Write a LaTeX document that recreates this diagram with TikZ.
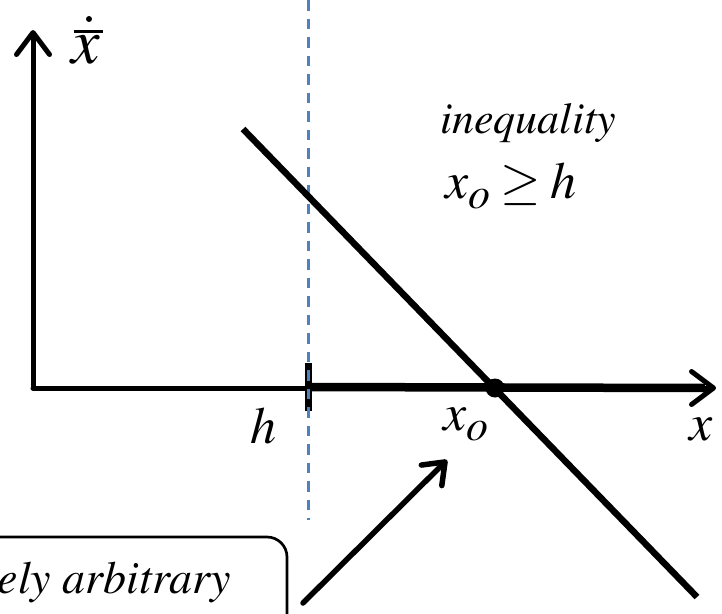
\documentclass[tikz,border=0pt]{standalone}
\usepackage[T1]{fontenc}
\usepackage{mathptmx}
\usetikzlibrary{arrows.meta,positioning,calc}
\definecolor{guideblue}{RGB}{79,129,189}
\newcommand\lowsub[1]{\raisebox{-10pt}{\fontsize{44}{50}\selectfont #1}}

\begin{document}
\begin{tikzpicture}[x=1pt,y=-1pt,
  axis/.style={line width=5pt,line cap=round,-{Straight Barb[length=22pt,width=33pt,round]}},
  pointer/.style={line width=5.5pt,line cap=round,-{Straight Barb[length=19pt,width=29pt,round]}},
  guide/.style={draw=guideblue,line width=3pt,dash pattern=on 10.5pt off 8pt},
  lbl/.style={font=\fontsize{52}{60}\selectfont\itshape,inner sep=0pt,anchor=base west},
  txt/.style={font=\fontsize{44}{52}\selectfont\itshape,inner sep=0pt,anchor=base west},
  tickmark/.style={fill=black,minimum width=7pt,minimum height=48pt,inner sep=0pt},
  root/.style={circle,fill=black,minimum size=19pt,inner sep=0pt}]
  \useasboundingbox (0,0) rectangle (722,613);
  \clip (0,0) rectangle (722,613);
  % axes
  \coordinate (O) at (33,388);
  \coordinate (ytip) at (33,30);
  \coordinate (xtip) at (716,388);
  \draw[axis] (O) -- (ytip);
  \draw[axis] (O) -- (xtip);
  % threshold h and the feasible half line
  \node[tickmark] (hmark) at (308.5,387) {};
  \draw[line width=8.5pt] (hmark.center) -- (705,388);
  \coordinate (gtop) at (308.5,0);
  \coordinate (gbot) at (308.5,520);
  \draw[guide] (gtop) -- (gbot);
  % the line crossing the axis
  \coordinate (la) at (243,129);
  \coordinate (lb) at (697,597);
  \draw[line width=6.5pt] (la) -- (lb);
  \node[root] (xo) at (495,388) {};
  % labels
  \node[lbl,font=\fontsize{64}{70}\selectfont\itshape] (ylbl) at (71,63) {x};
  \draw[line width=3pt] (74,31) -- (103,31);
  \fill (89,19) circle (3pt);
  \node[lbl] (xlbl) at (689,440) {x};
  \node[lbl] (hlbl) at (250,443) {h};
  \node[lbl] (xolbl) at (443,430) {x\lowsub{o}};
  \node[txt] (ineq) at (440,133) {inequality};
  \node[lbl] (cond) at (445,198) {x\lowsub{o}\hspace{10pt}$\geq$\hspace{10pt}h};
  % note box and pointer
  \draw[line width=2.7pt,rounded corners=20pt] (-40,537) rectangle (287,700);
  \node[txt,anchor=base east,font=\fontsize{46}{52}\selectfont\itshape] (note) at (231,593) {ely arbitrary};
  \coordinate (pa) at (303,603);
  \coordinate (pb) at (447,460);
  \draw[pointer] (pa) -- (pb);
\end{tikzpicture}
\end{document}
